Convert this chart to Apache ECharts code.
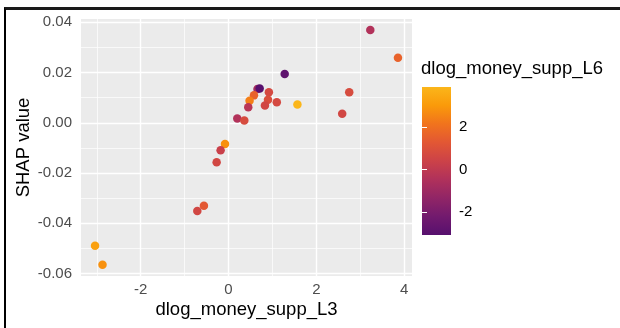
<!DOCTYPE html>
<html>
<head>
<meta charset="utf-8">
<script src="https://cdn.jsdelivr.net/npm/echarts@6/dist/echarts.min.js"></script>
<style>
  html, body { margin: 0; padding: 0; background: #fff; }
  #wrap { position: relative; width: 620px; height: 328px; }
  #chart { width: 620px; height: 328px; }
  #frame {
    position: absolute; left: 4px; top: 7px; right: 0; bottom: 0;
    border-top: 3px solid #1a1a1a; border-left: 2px solid #000;
    pointer-events: none;
  }
</style>
</head>
<body>
<div id="wrap">
  <div id="chart"></div>
  <div id="frame"></div>
</div>
<script>
// dlog_money_supp_L3 (x), SHAP value (y), dlog_money_supp_L6 (colour)
const moneyL3 = [3.23, 3.86, 1.28, 2.75, 2.59, 1.57, 0.66, 0.71, 0.58, 0.48, 0.45, 0.92,
                 0.90, 0.83, 1.10, 0.20, 0.36, -0.08, -0.18, -0.27, -0.56, -0.71, -3.04, -2.87];
const shapValue = [0.0369, 0.0259, 0.0194, 0.0121, 0.0036, 0.0073, 0.0134, 0.0136, 0.0109, 0.0088,
                   0.0062, 0.0121, 0.0092, 0.0069, 0.0082, 0.0017, 0.0009, -0.0085, -0.0109,
                   -0.0157, -0.0330, -0.0351, -0.0490, -0.0565];
const moneyL6 = [-0.4, 1.6, -2.8, 0.8, 0.6, 3.87, -0.8, -3.07, 1.6, 2.4, -0.2, 0.7,
                 0.9, 0.6, 0.7, -0.4, 0.8, 2.8, 0.3, 0.6, 1.3, 0.6, 3.2, 2.8];

// tick positions
const xTicks = [-2, 0, 2, 4];
const xMinorTicks = [-3, -1, 1, 3];
const yTicks = [-0.06, -0.04, -0.02, 0.00, 0.02, 0.04];
const yMinorTicks = [-0.05, -0.03, -0.01, 0.01, 0.03];
const barTicks = [-2, 0, 2];

// inferno segment used for the colour scale
const palette = ['#57106e', '#721a6e', '#912566', '#b0315b', '#cc4248',
                 '#e25734', '#f1731d', '#fa9a0a', '#fbb61a'];

const xRange = [-3.36, 4.18];
const yRange = [-0.0610, 0.0413];
const cRange = [Math.min(...moneyL6), Math.max(...moneyL6)];

const points = moneyL3.map((x, i) => [x, shapValue[i], moneyL6[i]]);

const font = 'Liberation Sans, Arial, Helvetica, sans-serif';
const gridLine = (vals, key, width) => ({
  silent: true, symbol: 'none', animation: false, z: 1,
  label: { show: false },
  lineStyle: { color: '#ffffff', width: width, type: 'solid' },
  emphasis: { disabled: true },
  data: vals.map(v => ({ [key]: v }))
});

const chart = echarts.init(document.getElementById('chart'), null, { renderer: 'canvas' });

chart.setOption({
  animation: false,
  backgroundColor: '#ffffff',
  textStyle: { fontFamily: font },
  title: {
    text: 'dlog_money_supp_L6',
    left: 421, top: 59, padding: 0,
    textStyle: { fontFamily: font, fontSize: 18.5, fontWeight: 'normal', color: '#000' }
  },
  grid: [
    { left: 81, right: 208, top: 19, bottom: 52, show: true,
      backgroundColor: '#ebebeb', borderWidth: 0, containLabel: false },
    { left: 422, top: 87, width: 29, height: 148, show: true, borderWidth: 0,
      backgroundColor: new echarts.graphic.LinearGradient(0, 1, 0, 0,
        palette.map((c, i) => ({ offset: i / (palette.length - 1), color: c }))) }
  ],
  xAxis: [
    { gridIndex: 0, type: 'value', min: xRange[0], max: xRange[1],
      name: 'dlog_money_supp_L3', nameLocation: 'middle', nameGap: 24, nameMoveOverlap: false,
      nameTextStyle: { fontFamily: font, fontSize: 18.5, color: '#000' },
      axisLine: { show: false },
      axisTick: { show: true, length: 3.5, lineStyle: { color: '#333', width: 1 }, customValues: xTicks },
      axisLabel: { customValues: xTicks, color: '#4d4d4d', fontSize: 15, margin: 6, fontFamily: font },
      splitLine: { show: false } },
    { gridIndex: 1, type: 'value', min: 0, max: 1, show: false }
  ],
  yAxis: [
    { gridIndex: 0, type: 'value', min: yRange[0], max: yRange[1],
      name: 'SHAP value', nameLocation: 'middle', nameGap: 48, nameMoveOverlap: false,
      nameTextStyle: { fontFamily: font, fontSize: 18.5, color: '#000' },
      axisLine: { show: false },
      axisTick: { show: true, length: 3.5, lineStyle: { color: '#333', width: 1 }, customValues: yTicks },
      axisLabel: { customValues: yTicks, color: '#4d4d4d', fontSize: 15, margin: 9, fontFamily: font,
                   formatter: v => v.toFixed(2) },
      splitLine: { show: false } },
    { gridIndex: 1, type: 'value', min: cRange[0], max: cRange[1], position: 'right',
      axisLine: { show: false },
      axisTick: { show: true, inside: true, length: 5, lineStyle: { color: '#ffffff', width: 1 }, customValues: barTicks },
      axisLabel: { customValues: barTicks, color: '#000', fontSize: 15, margin: 8, fontFamily: font },
      splitLine: { show: false } },
    { gridIndex: 1, type: 'value', min: cRange[0], max: cRange[1], position: 'left',
      axisLine: { show: false },
      axisTick: { show: true, inside: true, length: 5, lineStyle: { color: '#ffffff', width: 1 }, customValues: barTicks },
      axisLabel: { show: false },
      splitLine: { show: false } }
  ],
  visualMap: {
    show: false, type: 'continuous', seriesIndex: 4, dimension: 2,
    min: cRange[0], max: cRange[1],
    inRange: { color: palette }
  },
  series: [
    { type: 'line', xAxisIndex: 0, yAxisIndex: 0, data: [], silent: true, z: 1,
      markLine: gridLine(xMinorTicks, 'xAxis', 0.7) },
    { type: 'line', xAxisIndex: 0, yAxisIndex: 0, data: [], silent: true, z: 1,
      markLine: gridLine(yMinorTicks, 'yAxis', 0.7) },
    { type: 'line', xAxisIndex: 0, yAxisIndex: 0, data: [], silent: true, z: 1,
      markLine: gridLine(xTicks, 'xAxis', 1.4) },
    { type: 'line', xAxisIndex: 0, yAxisIndex: 0, data: [], silent: true, z: 1,
      markLine: gridLine(yTicks, 'yAxis', 1.4) },
    { type: 'scatter', xAxisIndex: 0, yAxisIndex: 0, data: points, symbolSize: 8.5, z: 10,
      itemStyle: { opacity: 1 } }
  ]
});
</script>
</body>
</html>
